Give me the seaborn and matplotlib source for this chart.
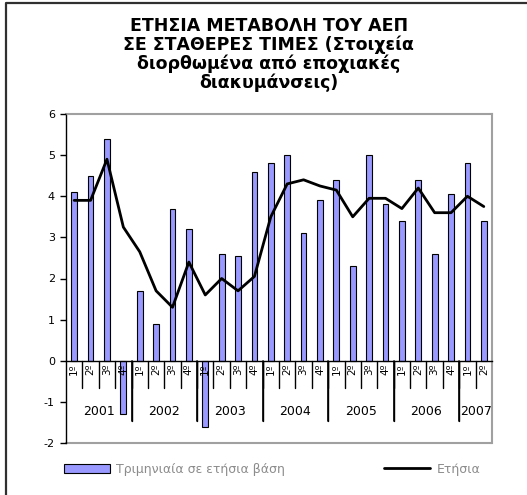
import numpy as np
import pandas as pd
import matplotlib
matplotlib.use('Agg')
import matplotlib.pyplot as plt
import seaborn as sns
from matplotlib.lines import Line2D
from matplotlib.patches import Patch

# Data
TITLE = "ΕΤΗΣΙΑ ΜΕΤΑΒΟΛΗ ΤΟΥ ΑΕΠ\nΣΕ ΣΤΑΘΕΡΕΣ ΤΙΜΕΣ (Στοιχεία\nδιορθωμένα από εποχιακές\nδιακυμάνσεις)"
years = ['2001', '2002', '2003', '2004', '2005', '2006', '2007']
quarters_per_year = [4, 4, 4, 4, 4, 4, 2]
quarter_names = ['1º', '2º', '3º', '4º']
quarterly = [4.1, 4.5, 5.4, -1.3, 1.7, 0.9, 3.7, 3.2, -1.6, 2.6, 2.55, 4.6, 4.8,
             5.0, 3.1, 3.9, 4.4, 2.3, 5.0, 3.8, 3.4, 4.4, 2.6, 4.05, 4.8, 3.4]
annual = [3.9, 3.9, 4.9, 3.25, 2.65, 1.7, 1.3, 2.4, 1.6, 2.0, 1.7, 2.05, 3.5,
          4.3, 4.4, 4.25, 4.15, 3.5, 3.95, 3.95, 3.7, 4.2, 3.6, 3.6, 4.0, 3.75]
series_names = ['Τριμηνιαία σε ετήσια βάση', 'Ετήσια']

BAR_COLOR = '#9999ff'
FRAME_GREY = '#a0a0a0'

quarter_labels = [quarter_names[q] for n in quarters_per_year for q in range(n)]
df = pd.DataFrame({'t': np.arange(len(quarterly)), 'quarterly': quarterly, 'annual': annual})

sns.set_style('white')
plt.rcParams['font.family'] = ['DejaVu Sans']
plt.rcParams['text.color'] = 'black'
plt.rcParams['xtick.color'] = 'black'
plt.rcParams['ytick.color'] = 'black'
plt.rcParams['axes.unicode_minus'] = False

fig = plt.figure(figsize=(5.27, 4.95), dpi=100)
ax = fig.add_axes([66 / 527, 1 - 443 / 495, 426 / 527, 329 / 495])

sns.barplot(data=df, x='t', y='quarterly', ax=ax, color=BAR_COLOR, saturation=1,
            edgecolor='black', linewidth=0.8, width=0.35, zorder=2)
sns.lineplot(data=df, x='t', y='annual', ax=ax, color='black', linewidth=2.0, zorder=4)
ax.set_axisbelow(False)

ax.set_xlim(-0.5, len(quarterly) - 0.5)
ax.set_ylim(-2, 6)
ax.set_xlabel('')
ax.set_ylabel('')

# axes frame
ax.spines['bottom'].set_position(('data', 0))
ax.spines['bottom'].set_color('black')
ax.spines['bottom'].set_linewidth(1.0)
ax.spines['left'].set_color('black')
ax.spines['left'].set_linewidth(1.0)
for s in ['top', 'right']:
    ax.spines[s].set_color(FRAME_GREY)
    ax.spines[s].set_linewidth(1.5)
ax.axhline(-2, color=FRAME_GREY, lw=1.5, clip_on=False, zorder=1)

ax.set_yticks(range(-2, 7))
ax.tick_params(axis='y', left=True, length=4, width=1, color='black', labelsize=8, pad=4)
ax.set_xticks(df['t'])
ax.set_xticklabels(quarter_labels, rotation=90, fontsize=7.5)
ax.tick_params(axis='x', bottom=False, length=0, pad=2)

# quarter and year separators below the zero line
starts = np.cumsum([0] + quarters_per_year)
for b in np.arange(0.5, len(quarterly) - 0.5):
    ax.plot([b, b], [0, -0.66], color='black', lw=1, zorder=1.5, clip_on=False)
for i, yr in enumerate(years):
    left, right = starts[i] - 0.5, starts[i + 1] - 0.5
    if i > 0:
        ax.plot([left, left], [0, -1.46], color='black', lw=1, zorder=1.5)
    ax.plot([right, right], [0, -1.46], color='black', lw=1.2, zorder=1.5, clip_on=False)
    ax.text((left + right) / 2, -1.24, yr, ha='center', va='center', fontsize=9)

fig.text(0.51, 1 - 17 / 495, TITLE, ha='center', va='top', fontsize=12.5,
         fontweight='bold', linespacing=1.03, multialignment='center')

handles = [Patch(facecolor=BAR_COLOR, edgecolor='black', linewidth=0.8),
           Line2D([0], [0], color='black', linewidth=2.0)]
fig.legend(handles, series_names, loc='center left', bbox_to_anchor=(64 / 527, 1 - 469 / 495),
           ncol=2, frameon=False, fontsize=9, labelcolor='#8c8c8c', handlelength=3.7,
           handletextpad=0.5, columnspacing=7.9, borderpad=0, borderaxespad=0)

# outer chart border (left and top only visible)
fig.add_artist(Line2D([6 / 527, 6 / 527, 1], [0, 1 - 3 / 495, 1 - 3 / 495],
                      color='#303030', lw=1.6, transform=fig.transFigure))

fig.savefig('out.png', dpi=100)
